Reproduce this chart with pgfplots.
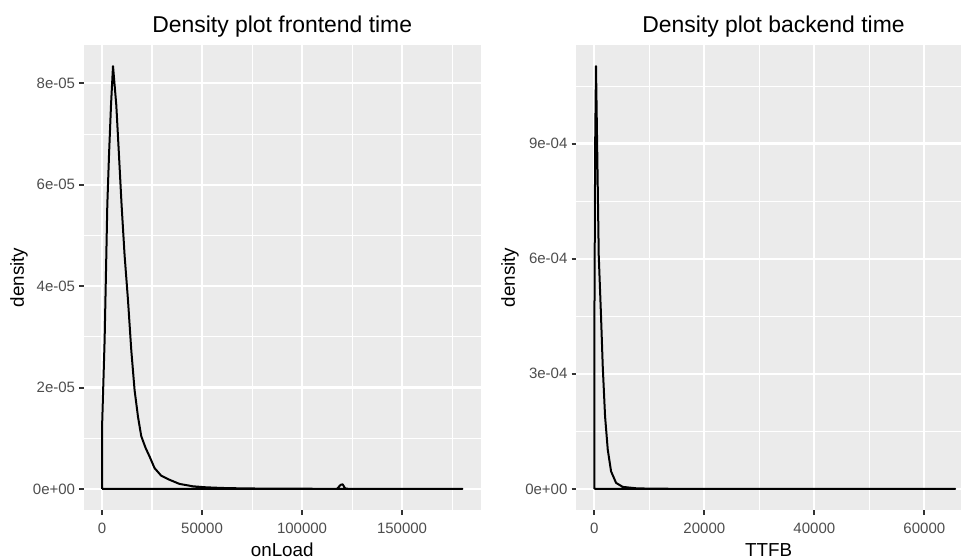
\documentclass[border=0pt]{standalone}
\usepackage{pgfplots}
\pgfplotsset{compat=1.18}
\usepackage{fontspec}
\setmainfont{Liberation Sans}
\definecolor{panelgray}{HTML}{EBEBEB}
\definecolor{ticklab}{HTML}{4D4D4D}
\definecolor{tickcol}{HTML}{333333}

\pgfplotsset{
  gg/.style={
    scale only axis,
    axis background/.style={fill=panelgray},
    axis line style={draw=none},
    tick align=outside,
    xtick pos=bottom, ytick pos=left,
    major tick length=2.35pt,
    minor tick length=0pt,
    tick style={tickcol, line width=1.0pt},
    xmajorgrids, ymajorgrids, xminorgrids, yminorgrids,
    major grid style={white, line width=1.1pt},
    minor grid style={white, line width=0.55pt},
    ticklabel style={font=\fontsize{7.5}{9}\selectfont, text=ticklab},
    xticklabel style={anchor=north, inner sep=0pt, yshift=-4pt},
    yticklabel style={anchor=east, inner sep=0pt, xshift=-1.9pt},
    /pgf/number format/assume math mode=true,
    scaled ticks=false,
    title style={font=\fontsize{11.45}{13}\selectfont, anchor=base, inner sep=0pt, yshift=-6pt},
    label style={font=\fontsize{9.4}{11}\selectfont, inner sep=0pt},
    xlabel style={at={(axis description cs:0.5,-0.0989)}, anchor=base},
    ylabel style={anchor=center, rotate=0},
    ylabel={density},
  }
}

\pgfplotstableread{
x y
100 0
100 1.33
1300 2.94
2150 4.61
2640 5.60
3490 6.58
4490 7.57
5490 8.34
7140 7.57
8480 6.58
9780 5.60
11280 4.61
12970 3.73
14620 2.74
16270 1.95
17960 1.43
19610 1.04
21760 0.81
23750 0.64
26250 0.41
29590 0.26
33730 0.18
38720 0.098
45410 0.051
52050 0.031
60000 0.018
70000 0.010
80000 0.006
90000 0.004
100000 0.003
110000 0.002
117500 0.002
119300 0.08
120300 0.09
121500 0.01
123000 0.002
140000 0.001
160000 0.0005
180200 0.0002
180200 0
100 0
}\frontend

\pgfplotstableread{
x y
0 0
0 4.0
150 9.0
300 11.02
800 6.08
1220 4.48
1530 3.18
1950 1.89
2440 1.02
3040 0.457
3950 0.156
5160 0.052
7580 0.016
10000 0.006
15000 0.002
25000 0.0008
40000 0.0004
65600 0.0002
65600 0
0 0
}\backend

\begin{document}
\begin{tikzpicture}
\path[use as bounding box] (0,0) rectangle (480.5pt,279.5pt);

\begin{axis}[gg,
  at={(42pt,24.5pt)}, anchor=south west,
  width=198.25pt, height=232.5pt,
  xmin=-9010, xmax=189210,
  ymin=-0.417, ymax=8.757,
  xtick={0,50000,100000,150000},
  xticklabels={0,50000,100000,150000},
  minor xtick={25000,75000,125000,175000},
  ytick={0,2,4,6,8},
  yticklabels={0e+00,2e-05,4e-05,6e-05,8e-05},
  minor ytick={1,3,5,7},
  title={Density plot frontend time},
  title style={at={(axis description cs:0.5,1.0265)}},
  xlabel={onLoad},
  ylabel style={at={(axis description cs:-0.1639,0.5)}},
]
\addplot[black, line width=1.0pt, line join=round, mark=none] table[x=x,y=y] {\frontend};
\end{axis}

\begin{axis}[gg,
  at={(288.15pt,24.5pt)}, anchor=south west,
  width=192.35pt, height=232.5pt,
  xmin=-3280, xmax=66665,
  ymin=-0.551, ymax=11.57,
  xtick={0,20000,40000,60000},
  xticklabels={0,20000,40000,60000},
  minor xtick={10000,30000,50000},
  ytick={0,3,6,9},
  yticklabels={0e+00,3e-04,6e-04,9e-04},
  minor ytick={1.5,4.5,7.5,10.5},
  title={Density plot backend time},
  title style={at={(axis description cs:0.5126,1.0265)}},
  xlabel={TTFB},
  ylabel style={at={(axis description cs:-0.1723,0.5)}},
]
\addplot[black, line width=1.0pt, line join=round, mark=none] table[x=x,y=y] {\backend};
\end{axis}
\end{tikzpicture}
\end{document}
